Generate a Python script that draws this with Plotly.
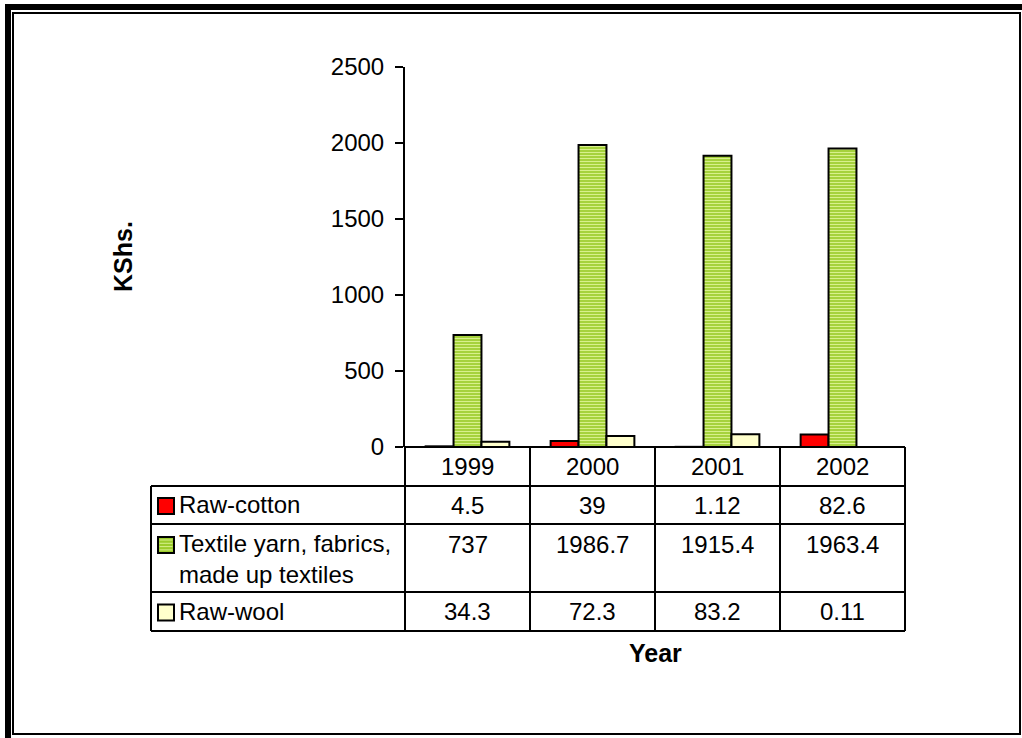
import plotly.graph_objects as go

# ---- data -------------------------------------------------------------
years = ["1999", "2000", "2001", "2002"]
raw_cotton = [4.5, 39, 1.12, 82.6]
textile_yarn = [737, 1986.7, 1915.4, 1963.4]
raw_wool = [34.3, 72.3, 83.2, 0.11]

series_names = ["Raw-cotton", "Textile yarn, fabrics,<br>made up textiles", "Raw-wool"]
series_values = [raw_cotton, textile_yarn, raw_wool]

y_ticks = [0, 500, 1000, 1500, 2000, 2500]

# ---- page geometry (pixels) ------------------------------------------
W, H = 1022, 738
FONT = "Liberation Sans, Arial, sans-serif"
FS = 24


def px(x):
    return x / W


def py(y):
    return 1 - y / H


PLOT_L, PLOT_R = 405, 905
PLOT_T, PLOT_B = 67, 447
LEG_L = 151
ROW_Y = [447, 486, 524, 592, 631]   # horizontal rules of the data table

RED = "#ff0000"
GREEN_BG = "#9ccc2c"
GREEN_FG = "#d8f08c"
CREAM = "#ffffcc"

fig = go.Figure()

fig.add_trace(go.Bar(
    x=years, y=raw_cotton, name="Raw-cotton",
    marker=dict(color=RED, line=dict(color="black", width=2)),
))
fig.add_trace(go.Bar(
    x=years, y=textile_yarn, name="Textile yarn, fabrics, made up textiles",
    marker=dict(
        color=GREEN_BG,
        line=dict(color="black", width=2),
        pattern=dict(shape="-", fgcolor=GREEN_FG, bgcolor=GREEN_BG,
                     size=3, solidity=0.45, fillmode="replace"),
    ),
))
fig.add_trace(go.Bar(
    x=years, y=raw_wool, name="Raw-wool",
    marker=dict(color=CREAM, line=dict(color="black", width=2)),
))

shapes = []
annotations = []

# ---- page border: heavy outer band on top/left, thin inner frame ------
shapes.append(dict(type="rect", xref="paper", yref="paper",
                   x0=px(5), x1=px(11), y0=py(H), y1=py(4),
                   fillcolor="black", line=dict(width=0), layer="above"))
shapes.append(dict(type="rect", xref="paper", yref="paper",
                   x0=px(5), x1=px(W), y0=py(10), y1=py(4),
                   fillcolor="black", line=dict(width=0), layer="above"))
shapes.append(dict(type="rect", xref="paper", yref="paper",
                   x0=px(13), x1=px(1020), y0=py(734), y1=py(13),
                   fillcolor="rgba(0,0,0,0)", line=dict(color="black", width=2),
                   layer="above"))

# ---- data table rules --------------------------------------------------
def hline(y, x0, x1):
    shapes.append(dict(type="line", xref="paper", yref="paper",
                       x0=px(x0), x1=px(x1), y0=py(y), y1=py(y),
                       line=dict(color="black", width=2), layer="above"))


def vline(x, y0, y1):
    shapes.append(dict(type="line", xref="paper", yref="paper",
                       x0=px(x), x1=px(x), y0=py(y0), y1=py(y1),
                       line=dict(color="black", width=2), layer="above"))


n = len(years)
col_w = (PLOT_R - PLOT_L) / n
col_edges = [PLOT_L + i * col_w for i in range(n + 1)]

hline(ROW_Y[0], PLOT_L, PLOT_R)
for y in ROW_Y[1:]:
    hline(y, LEG_L, PLOT_R)
vline(LEG_L, ROW_Y[1], ROW_Y[-1])
for x in col_edges:
    vline(x, ROW_Y[0], ROW_Y[-1])

# header row: years
for i, yr in enumerate(years):
    annotations.append(dict(
        x=px(col_edges[i] + col_w / 2), y=py((ROW_Y[0] + ROW_Y[1]) / 2),
        xref="paper", yref="paper", text=yr, showarrow=False,
        xanchor="center", yanchor="middle",
        font=dict(family=FONT, size=FS, color="black")))

# value rows + legend keys
swatch_colors = [RED, GREEN_BG, CREAM]
text_rows_y = [(ROW_Y[1] + ROW_Y[2]) / 2, ROW_Y[2] + 20, (ROW_Y[3] + ROW_Y[4]) / 2]
for r, (name, vals) in enumerate(zip(series_names, series_values)):
    ty = text_rows_y[r]
    for i, v in enumerate(vals):
        annotations.append(dict(
            x=px(col_edges[i] + col_w / 2), y=py(ty),
            xref="paper", yref="paper", text=f"{v:g}", showarrow=False,
            xanchor="center", yanchor="middle",
            font=dict(family=FONT, size=FS, color="black")))
    annotations.append(dict(
        x=px(177), y=py(ty - 16), xref="paper", yref="paper",
        text=name, showarrow=False, xanchor="left", yanchor="top", align="left",
        font=dict(family=FONT, size=FS, color="black")))
    sx0, sx1 = 158, 174
    sy0, sy1 = ty - 7, ty + 9
    shapes.append(dict(type="rect", xref="paper", yref="paper",
                       x0=px(sx0), x1=px(sx1), y0=py(sy1), y1=py(sy0),
                       fillcolor=swatch_colors[r],
                       line=dict(color="black", width=2), layer="above"))
    if r == 1:
        for k in range(4):
            yy = sy0 + 3 + k * 3.3
            shapes.append(dict(type="line", xref="paper", yref="paper",
                               x0=px(sx0 + 1.5), x1=px(sx1 - 1.5),
                               y0=py(yy), y1=py(yy),
                               line=dict(color=GREEN_FG, width=1), layer="above"))

# axis titles
annotations.append(dict(
    x=px(123), y=py((PLOT_T + PLOT_B) / 2), xref="paper", yref="paper",
    text="<b>KShs.</b>", showarrow=False, textangle=-90,
    xanchor="center", yanchor="middle",
    font=dict(family=FONT, size=25, color="black")))
annotations.append(dict(
    x=px((PLOT_L + PLOT_R) / 2), y=py(653), xref="paper", yref="paper",
    text="<b>Year</b>", showarrow=False,
    xanchor="center", yanchor="middle",
    font=dict(family=FONT, size=25, color="black")))

fig.update_layout(
    width=W, height=H, autosize=False,
    margin=dict(l=0, r=0, t=0, b=0, pad=0, autoexpand=False),
    paper_bgcolor="white", plot_bgcolor="white",
    barmode="group", bargap=0.33, bargroupgap=0,
    showlegend=False,
    font=dict(family=FONT, size=FS, color="black"),
    xaxis=dict(domain=[px(PLOT_L), px(PLOT_R)], showticklabels=False,
               ticks="", showgrid=False, zeroline=False, showline=False,
               type="category", automargin=False),
    yaxis=dict(domain=[py(PLOT_B), py(PLOT_T)], range=[0, 2500],
               tickvals=y_ticks, ticks="outside", ticklen=8, tickwidth=2,
               tickcolor="black", showline=True, linewidth=2, linecolor="black",
               showgrid=False, zeroline=False, ticklabelstandoff=6,
               automargin=False,
               tickfont=dict(family=FONT, size=FS, color="black")),
    shapes=shapes,
    annotations=annotations,
)

fig.write_html("out.html",
               post_script="document.body.style.margin='0';"
                           "document.body.style.overflow='hidden';")
